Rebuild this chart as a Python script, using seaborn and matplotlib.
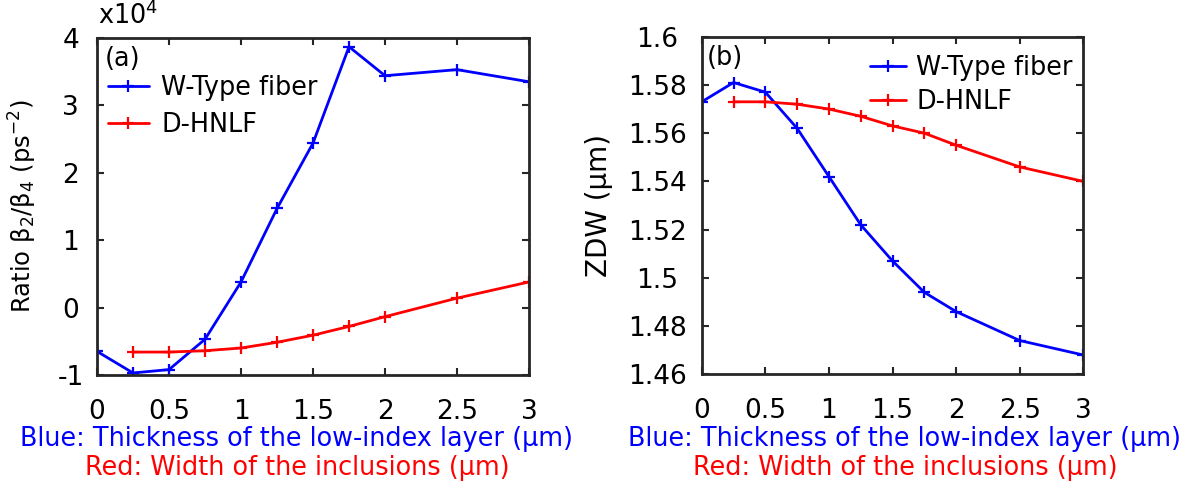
import numpy as np
import pandas as pd
import matplotlib
matplotlib.use("Agg")
import matplotlib.pyplot as plt
import seaborn as sns

sns.set_style("ticks")
plt.rcParams['font.family'] = ['DejaVu Sans']
plt.rcParams['mathtext.fontset'] = 'dejavusans'
plt.rcParams['text.color'] = 'black'
plt.rcParams['axes.labelcolor'] = 'black'

# W-type fiber: thickness of low-index layer (um)
x_w = [0, 0.25, 0.5, 0.75, 1, 1.25, 1.5, 1.75, 2, 2.5, 3]
# D-HNLF: width of inclusions (um)
x_d = [0.25, 0.5, 0.75, 1, 1.25, 1.5, 1.75, 2, 2.5, 3]

# ratio beta2/beta4 in units of 1e4 ps^-2
ratio_w = [-0.65, -0.97, -0.92, -0.47, 0.38, 1.47, 2.44, 3.87, 3.44, 3.53, 3.35]
ratio_d = [-0.66, -0.66, -0.64, -0.60, -0.515, -0.41, -0.28, -0.135, 0.14, 0.38]

# zero dispersion wavelength (um)
zdw_w = [1.573, 1.581, 1.577, 1.562, 1.542, 1.522, 1.507, 1.494, 1.486, 1.474, 1.468]
zdw_d = [1.573, 1.573, 1.572, 1.570, 1.567, 1.563, 1.560, 1.555, 1.546, 1.540]

xticks = [0, 0.5, 1, 1.5, 2, 2.5, 3]
yticks_a = [-1, 0, 1, 2, 3, 4]
yticks_b = [1.46, 1.48, 1.5, 1.52, 1.54, 1.56, 1.58, 1.6]

BLUE = "#0000ff"
RED = "#ff0000"
FS = 18.4
TFS = 19

fig = plt.figure(figsize=(11.92, 4.88), dpi=100)
ax1 = fig.add_axes([0.0814, 0.2316, 0.3624, 0.6906])
ax2 = fig.add_axes([0.5887, 0.2330, 0.3201, 0.6918])

line_kw = dict(marker="+", markersize=8, markeredgewidth=1.6, linewidth=2.0)

sns.lineplot(x=x_w, y=ratio_w, ax=ax1, color=BLUE, mec=BLUE, label="W-Type fiber", **line_kw)
sns.lineplot(x=x_d, y=ratio_d, ax=ax1, color=RED, mec=RED, label="D-HNLF", **line_kw)
sns.lineplot(x=x_w, y=zdw_w, ax=ax2, color=BLUE, mec=BLUE, label="W-Type fiber", **line_kw)
sns.lineplot(x=x_d, y=zdw_d, ax=ax2, color=RED, mec=RED, label="D-HNLF", **line_kw)

for ax, yt, ypad in [(ax1, yticks_a, 19), (ax2, yticks_b, 32)]:
    ax.set_xlim(0, 3)
    ax.set_ylim(yt[0], yt[-1])
    ax.set_xticks(xticks)
    ax.set_xticklabels([f"{v:g}" for v in xticks])
    ax.set_yticks(yt)
    ax.set_yticklabels([f"{v:g}" for v in yt])
    ax.tick_params(direction="in", top=True, right=True, length=5, width=1.5,
                   color="#262626", labelsize=TFS, labelcolor="black")
    ax.tick_params(axis="x", pad=17)
    ax.tick_params(axis="y", pad=ypad)
    for lab in ax.get_yticklabels():
        lab.set_ha("center")
    for sp in ax.spines.values():
        sp.set_visible(True)
        sp.set_linewidth(2)
        sp.set_color("#262626")
    ax.set_xlabel("")

ax1.set_ylabel(r"Ratio $\mathregular{\beta_2/\beta_4}$ (ps$^{-2}$)", fontsize=17.5)
ax1.yaxis.set_label_coords(-0.134, 0.5)
ax2.set_ylabel("ZDW (μm)", fontsize=20)
ax2.yaxis.set_label_coords(-0.232, 0.5)

ax1.text(0.019, 0.976, "(a)", transform=ax1.transAxes, fontsize=FS, va="top", ha="left")
ax2.text(0.014, 0.976, "(b)", transform=ax2.transAxes, fontsize=FS, va="top", ha="left")
fig.text(0.082, 0.968, r"x10$^4$", fontsize=FS, ha="left", va="center")

ax1.legend(loc="upper left", bbox_to_anchor=(0.025, 0.89), frameon=False, fontsize=FS,
           handlelength=1.6, handletextpad=0.5, labelspacing=0.42, borderpad=0,
           borderaxespad=0)
ax2.legend(loc="upper right", bbox_to_anchor=(0.972, 0.946), frameon=False, fontsize=FS,
           handlelength=1.4, handletextpad=0.4, labelspacing=0.32, borderpad=0,
           borderaxespad=0)

for cx in (297 / 1192, 905 / 1192):
    fig.text(cx, 1 - 439 / 488, "Blue: Thickness of the low-index layer (μm)",
             color=BLUE, fontsize=FS, ha="center", va="center")
    fig.text(cx, 1 - 468 / 488, "Red: Width of the inclusions (μm)",
             color=RED, fontsize=FS, ha="center", va="center")

fig.savefig("out.png", dpi=100)
